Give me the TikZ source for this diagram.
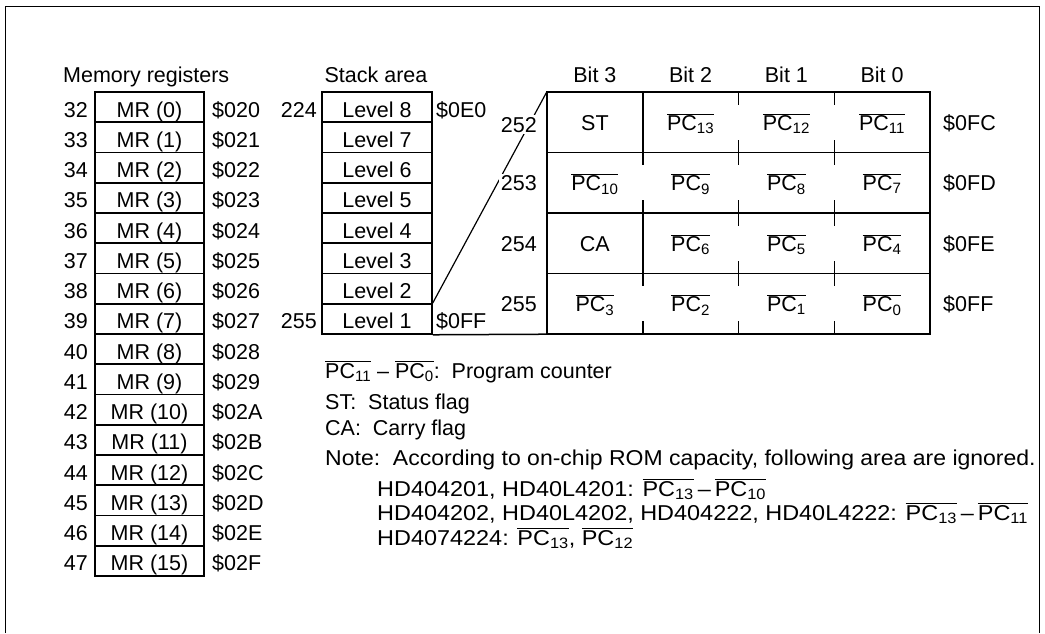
\documentclass[tikz,border=0pt]{standalone}
\usepackage{fontspec}
\setmainfont{Liberation Sans}
\newcommand{\pcbar}[1]{$\overline{\hbox{PC\textsubscript{#1}}}$}

\begin{document}
\begin{tikzpicture}[font=\fontsize{21.5}{26}\selectfont,
  reg/.style={draw, line width=1.5pt, inner sep=0pt, minimum width=109pt, minimum height=30.25pt, text height=20pt, text depth=0pt},
  lvl/.style={reg, minimum width=110pt},
  bitcell/.style={inner sep=0pt, minimum width=95.75pt, minimum height=60.5pt, text height=16pt, text depth=0pt},
  num/.style={inner sep=0pt, anchor=base east},
  hex/.style={inner sep=0pt, anchor=base west},
  wide/.style={hex, xscale=1.07, transform shape},
  wider/.style={hex, xscale=1.09, transform shape},
  addr/.style={inner sep=2pt, fill=white, anchor=base east},
  rule/.style={line width=1.5pt}]
  \useasboundingbox (0pt,0pt) rectangle (1045pt,-633pt);
  \draw[line width=1.8pt] (5.5pt,-633pt) -- (5.5pt,-6.5pt) -- (1039.5pt,-6.5pt) -- (1039.5pt,-633pt);

  % memory registers
  \draw (63pt,-82pt)node[hex](memtitle){Memory registers};
  \draw (149.5pt,-107.1pt)node[reg](mr0){MR (0)} (88pt,-117.1pt)node[num](d32){32} (212pt,-117.1pt)node[hex](x020){\$020};
  \draw (149.5pt,-137.4pt)node[reg](mr1){MR (1)} (88pt,-147.4pt)node[num](d33){33} (212pt,-147.4pt)node[hex](x021){\$021};
  \draw (149.5pt,-167.6pt)node[reg](mr2){MR (2)} (88pt,-177.6pt)node[num](d34){34} (212pt,-177.6pt)node[hex](x022){\$022};
  \draw (149.5pt,-197.9pt)node[reg](mr3){MR (3)} (88pt,-207.9pt)node[num](d35){35} (212pt,-207.9pt)node[hex](x023){\$023};
  \draw (149.5pt,-228.1pt)node[reg](mr4){MR (4)} (88pt,-238.1pt)node[num](d36){36} (212pt,-238.1pt)node[hex](x024){\$024};
  \draw (149.5pt,-258.4pt)node[reg](mr5){MR (5)} (88pt,-268.4pt)node[num](d37){37} (212pt,-268.4pt)node[hex](x025){\$025};
  \draw (149.5pt,-288.6pt)node[reg](mr6){MR (6)} (88pt,-298.6pt)node[num](d38){38} (212pt,-298.6pt)node[hex](x026){\$026};
  \draw (149.5pt,-318.9pt)node[reg](mr7){MR (7)} (88pt,-328.9pt)node[num](d39){39} (212pt,-328.9pt)node[hex](x027){\$027};
  \draw (149.5pt,-349.1pt)node[reg](mr8){MR (8)} (88pt,-359.1pt)node[num](d40){40} (212pt,-359.1pt)node[hex](x028){\$028};
  \draw (149.5pt,-379.4pt)node[reg](mr9){MR (9)} (88pt,-389.4pt)node[num](d41){41} (212pt,-389.4pt)node[hex](x029){\$029};
  \draw (149.5pt,-409.6pt)node[reg](mr10){MR (10)} (88pt,-419.6pt)node[num](d42){42} (212pt,-419.6pt)node[hex](x02a){\$02A};
  \draw (149.5pt,-439.9pt)node[reg](mr11){MR (11)} (88pt,-449.9pt)node[num](d43){43} (212pt,-449.9pt)node[hex](x02b){\$02B};
  \draw (149.5pt,-470.1pt)node[reg](mr12){MR (12)} (88pt,-480.1pt)node[num](d44){44} (212pt,-480.1pt)node[hex](x02c){\$02C};
  \draw (149.5pt,-500.4pt)node[reg](mr13){MR (13)} (88pt,-510.4pt)node[num](d45){45} (212pt,-510.4pt)node[hex](x02d){\$02D};
  \draw (149.5pt,-530.6pt)node[reg](mr14){MR (14)} (88pt,-540.6pt)node[num](d46){46} (212pt,-540.6pt)node[hex](x02e){\$02E};
  \draw (149.5pt,-560.9pt)node[reg](mr15){MR (15)} (88pt,-570.9pt)node[num](d47){47} (212pt,-570.9pt)node[hex](x02f){\$02F};

  % stack area
  \draw (376pt,-82pt)node[anchor=base, inner sep=0pt](stktitle){Stack area};
  \draw (377pt,-107.1pt)node[lvl](l8){Level 8} (317pt,-117.1pt)node[num](d224){224} (436pt,-117.1pt)node[hex](x0e0){\$0E0};
  \draw (377pt,-137.4pt)node[lvl](l7){Level 7};
  \draw (377pt,-167.6pt)node[lvl](l6){Level 6};
  \draw (377pt,-197.9pt)node[lvl](l5){Level 5};
  \draw (377pt,-228.1pt)node[lvl](l4){Level 4};
  \draw (377pt,-258.4pt)node[lvl](l3){Level 3};
  \draw (377pt,-288.6pt)node[lvl](l2){Level 2};
  \draw (377pt,-318.9pt)node[lvl](l1){Level 1} (317pt,-328.9pt)node[num](d255){255} (436pt,-328.9pt)node[hex](x0ff){\$0FF};

  % level 1 in bits
  \draw (594.9pt,-82pt)node[anchor=base, inner sep=0pt](b3){Bit 3};
  \draw (690.6pt,-82pt)node[anchor=base, inner sep=0pt](b2){Bit 2};
  \draw (786.4pt,-82pt)node[anchor=base, inner sep=0pt](b1){Bit 1};
  \draw (882.1pt,-82pt)node[anchor=base, inner sep=0pt](b0){Bit 0};
  \draw (594.9pt,-122.25pt)node[bitcell](st){ST};
  \draw (690.6pt,-122.25pt)node[bitcell](pc13){\pcbar{13}};
  \draw (786.4pt,-122.25pt)node[bitcell](pc12){\pcbar{12}};
  \draw (882.1pt,-122.25pt)node[bitcell](pc11){\pcbar{11}};
  \draw (594.9pt,-182.75pt)node[bitcell](pc10){\pcbar{10}};
  \draw (690.6pt,-182.75pt)node[bitcell](pc9){\pcbar{9}};
  \draw (786.4pt,-182.75pt)node[bitcell](pc8){\pcbar{8}};
  \draw (882.1pt,-182.75pt)node[bitcell](pc7){\pcbar{7}};
  \draw (594.9pt,-243.25pt)node[bitcell](ca){CA};
  \draw (690.6pt,-243.25pt)node[bitcell](pc6){\pcbar{6}};
  \draw (786.4pt,-243.25pt)node[bitcell](pc5){\pcbar{5}};
  \draw (882.1pt,-243.25pt)node[bitcell](pc4){\pcbar{4}};
  \draw (594.9pt,-303.75pt)node[bitcell](pc3){\pcbar{3}};
  \draw (690.6pt,-303.75pt)node[bitcell](pc2){\pcbar{2}};
  \draw (786.4pt,-303.75pt)node[bitcell](pc1){\pcbar{1}};
  \draw (882.1pt,-303.75pt)node[bitcell](pc0){\pcbar{0}};
  \draw[rule] (st.north west) rectangle (pc0.south east);
  \draw[rule] (pc10.north west) -- (pc7.north east) (ca.north west) -- (pc4.north east) (pc3.north west) -- (pc0.north east);
  \draw[rule] (st.north east) -- (st.south east) (ca.north east) -- (ca.south east);
  \draw[rule] (pc10.north east) -- ++(0,-13pt) (pc10.south east) -- ++(0,13pt)
    (pc3.north east) -- ++(0,-13pt) (pc3.south east) -- ++(0,13pt);
  \draw[rule] (pc13.north east) -- ++(0,-13pt) (pc13.south east) -- ++(0,13pt)
    (pc9.north east) -- ++(0,-13pt) (pc9.south east) -- ++(0,13pt)
    (pc6.north east) -- ++(0,-13pt) (pc6.south east) -- ++(0,13pt)
    (pc2.north east) -- ++(0,-13pt) (pc2.south east) -- ++(0,13pt);
  \draw[rule] (pc12.north east) -- ++(0,-13pt) (pc12.south east) -- ++(0,13pt)
    (pc8.north east) -- ++(0,-13pt) (pc8.south east) -- ++(0,13pt)
    (pc5.north east) -- ++(0,-13pt) (pc5.south east) -- ++(0,13pt)
    (pc1.north east) -- ++(0,-13pt) (pc1.south east) -- ++(0,13pt);
  \draw[line width=1.2pt] (l1.north east) -- (st.north west);
  \draw[rule] (l1.south east) -- (pc3.south west);
  \draw (539pt,-132pt)node[addr](d252){252} (943pt,-130.25pt)node[hex](x0fc){\$0FC};
  \draw (539pt,-190.75pt)node[addr](d253){253} (943pt,-190.75pt)node[hex](x0fd){\$0FD};
  \draw (539pt,-251.25pt)node[addr](d254){254} (943pt,-251.25pt)node[hex](x0fe){\$0FE};
  \draw (539pt,-311.75pt)node[addr](d255b){255} (943pt,-311.75pt)node[hex](x0ffb){\$0FF};

  % legend
  \draw (325pt,-378pt)node[hex](pcnote){\pcbar{11} -- \pcbar{0}:\ \ Program counter};
  \draw (325pt,-409pt)node[hex](stnote){ST:\ \ Status flag};
  \draw (325pt,-435pt)node[hex](canote){CA:\ \ Carry flag};
  \draw (325pt,-465pt)node[wide](note){Note:\ \ According to on-chip ROM capacity, following area are ignored.};
  \draw (377pt,-496pt)node[wider](rom1){HD404201, HD40L4201: \pcbar{13}\,--\,\pcbar{10}};
  \draw (377pt,-520pt)node[wider](rom2){HD404202, HD40L4202, HD404222, HD40L4222: \pcbar{13}\,--\,\pcbar{11}};
  \draw (377pt,-545pt)node[wider](rom3){HD4074224: \pcbar{13}, \pcbar{12}};
\end{tikzpicture}
\end{document}
